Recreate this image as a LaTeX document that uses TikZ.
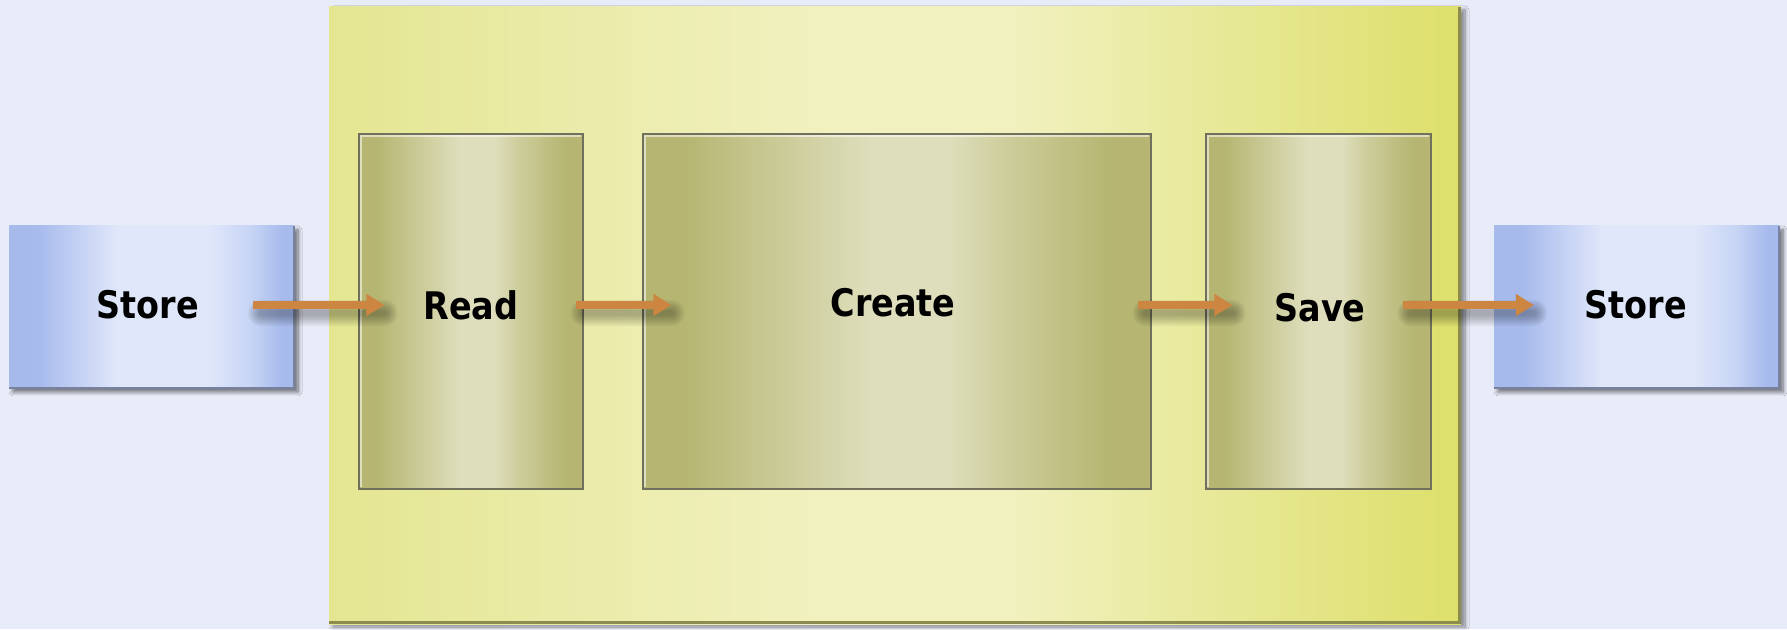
\documentclass[tikz,border=0pt]{standalone}
\usepackage{fontspec}
\newfontfamily\lblfont[FakeStretch=0.88]{DejaVu Sans}
\usetikzlibrary{arrows.meta,shadows.blur}
\definecolor{bgc}{RGB}{232,236,248}
\definecolor{olA}{RGB}{182,182,114}
\definecolor{olB}{RGB}{204,204,154}
\definecolor{olC}{RGB}{222,222,188}
\definecolor{olD}{RGB}{112,112,92}
\definecolor{blA}{RGB}{166,186,236}
\definecolor{blB}{RGB}{198,212,244}
\definecolor{blC}{RGB}{224,231,250}
\definecolor{blD}{RGB}{120,130,160}
\definecolor{ylA}{RGB}{228,230,146}
\definecolor{ylB}{RGB}{241,241,192}
\definecolor{ylC}{RGB}{222,224,110}
\definecolor{ylD}{RGB}{140,140,80}
\definecolor{arrc}{RGB}{204,134,66}
\pgfdeclarehorizontalshading{oliveshade}{100bp}{color(0bp)=(olA); color(25bp)=(olA); color(29bp)=(olA); color(47.5bp)=(olC); color(55bp)=(olC); color(61bp)=(olB); color(71bp)=(olA); color(75bp)=(olA); color(100bp)=(olA)}
\pgfdeclarehorizontalshading{blueshade}{100bp}{color(0bp)=(blA); color(25bp)=(blA); color(30bp)=(blA); color(44bp)=(blC); color(60bp)=(blC); color(67.5bp)=(blB); color(73bp)=(blA); color(75bp)=(blA); color(100bp)=(blA)}
\pgfdeclarehorizontalshading{yellowshade}{100bp}{color(0bp)=(ylA); color(25bp)=(ylA); color(47bp)=(ylB); color(55bp)=(ylB); color(74bp)=(ylC); color(100bp)=(ylC)}
\tikzset{
  box/.style={rectangle, inner sep=0pt, anchor=center},
  outerbox/.style={box, shading=yellowshade, blur shadow={shadow xshift=4pt, shadow yshift=-3pt, shadow blur radius=4pt, shadow blur steps=8, shadow opacity=45}},
  storebox/.style={box, shading=blueshade, blur shadow={shadow xshift=4pt, shadow yshift=-4pt, shadow blur radius=4pt, shadow blur steps=8, shadow opacity=55}},
  stepbox/.style={box, shading=oliveshade, draw=olD, line width=1.2pt},
  lbl/.style={font=\lblfont\bfseries\fontsize{38}{40}\selectfont, text=black, inner sep=0pt, anchor=center},
  arr/.style={line width=8.5pt, draw=arrc, -{Triangle[length=18pt,width=21pt]}},
  arrshadow/.style={line cap=round, draw=black, opacity=0.05},
  hilite/.style={draw=white, opacity=0.55, line width=1.5pt}
}
\begin{document}
\begin{tikzpicture}[x=1pt,y=1pt]
\useasboundingbox (0,0) rectangle (1787,629);
\fill[bgc] (0,0) rectangle (1787,629);
% outer process box
\node[outerbox, minimum width=1132pt, minimum height=617pt] (outer) at (895,313.5) {};
\draw[ylD, line width=3pt] ([shift={(-1.5,0)}]outer.north east) -- ([shift={(-1.5,1.5)}]outer.south east) -- ([shift={(0,1.5)}]outer.south west);
% stores
\node[storebox, minimum width=285pt, minimum height=162pt] (storeL) at (151.5,322) {};
\node[storebox, minimum width=285pt, minimum height=162pt] (storeR) at (1636.5,322) {};
\draw[blD, line width=1.5pt] (storeL.north east) -- (storeL.south east) -- (storeL.south west);
\draw[blD, line width=1.5pt] (storeR.north east) -- (storeR.south east) -- (storeR.south west);
% steps
\node[stepbox, minimum width=224pt, minimum height=355pt] (read) at (471,317.5) {};
\node[stepbox, minimum width=508pt, minimum height=355pt] (create) at (897,317.5) {};
\node[stepbox, minimum width=225pt, minimum height=355pt] (save) at (1318.5,317.5) {};
\foreach \b in {read,create,save}{
  \draw[hilite] ([shift={(2.5,2.5)}]\b.south west) -- ([shift={(2.5,-2.5)}]\b.north west) -- ([shift={(-2.5,-2.5)}]\b.north east);
  \draw[olD, line width=2pt] ([shift={(0,1)}]\b.south west) -- ([shift={(0,1)}]\b.south east);
}
% arrow end points
\coordinate (a1s) at ([shift={(-41,2)}]storeL.east);
\coordinate (a1e) at ([shift={(26,6.5)}]read.west);
\coordinate (a2s) at ([shift={(-8,6.5)}]read.east);
\coordinate (a2e) at ([shift={(29,6.5)}]create.west);
\coordinate (a3s) at ([shift={(-14,6.5)}]create.east);
\coordinate (a3e) at ([shift={(27,6.5)}]save.west);
\coordinate (a4s) at ([shift={(-29,6.5)}]save.east);
\coordinate (a4e) at ([shift={(40,2)}]storeR.west);
\foreach \s/\e in {a1s/a1e,a2s/a2e,a3s/a3e,a4s/a4e}{
  \foreach \w in {6,10,14,18,22,26}{
    \draw[arrshadow, line width=\w pt] ([shift={(8,-8)}]\s) -- ([shift={(0,-8)}]\e);
  }
  \draw[arr] (\s) -- (\e);
}
% labels
\node[lbl] (tStoreL) at (148,324) {Store};
\node[lbl] (tRead) at (471,324) {Read};
\node[lbl] (tCreate) at (893,326) {Create};
\node[lbl] (tSave) at (1320,321) {Save};
\node[lbl] (tStoreR) at (1636,324) {Store};
\end{tikzpicture}
\end{document}
